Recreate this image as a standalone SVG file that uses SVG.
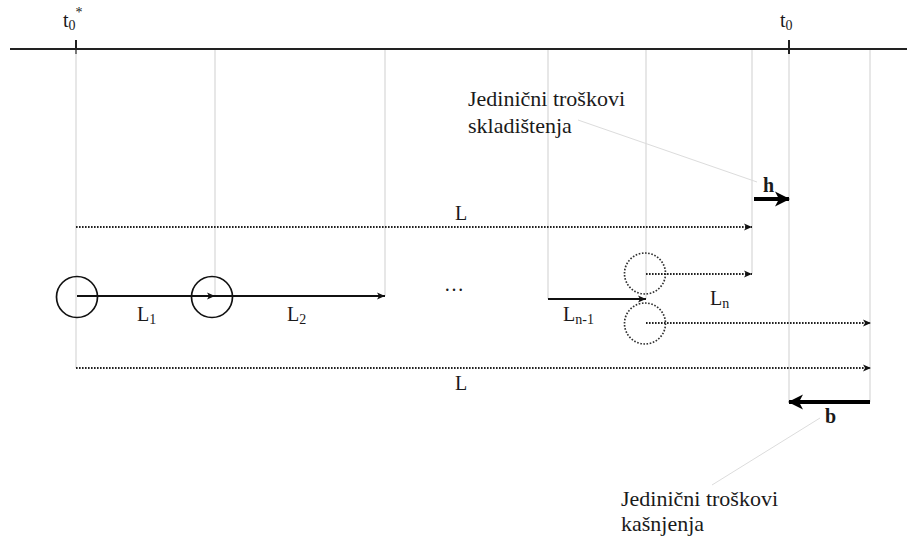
<svg xmlns="http://www.w3.org/2000/svg" width="907" height="541" viewBox="0 0 907 541">
<style>
  text { font-family: "Liberation Serif", "Times New Roman", serif; fill: #1a1a1a; }
  .grid { stroke: #cfcfcf; stroke-width: 1; fill: none; }
  .axis { stroke: #222; stroke-width: 2; fill: none; }
  .solid { stroke: #111; stroke-width: 1.8; fill: none; }
  .dotted { stroke: #222; stroke-width: 2.2; stroke-dasharray: 1.6 1.4; fill: none; }
  .thick { stroke: #000; stroke-width: 3.8; fill: none; }
  .leader { stroke: #dcdcdc; stroke-width: 1; fill: none; }
  .lbl { font-size: 20px; }
  .sub { font-size: 14px; }
  .bold { font-size: 20px; font-weight: bold; }
  .note { font-size: 22px; }
</style>
<defs>
  <marker id="arr" markerUnits="userSpaceOnUse" markerWidth="10" markerHeight="10" refX="9" refY="5" orient="auto">
    <path d="M1,1.5 L9,5 L1,8.5 L3,5 z" fill="#111"/>
  </marker>
  <marker id="big" markerUnits="userSpaceOnUse" markerWidth="18" markerHeight="18" refX="16" refY="9" orient="auto">
    <path d="M2,1.5 L17,9 L2,16.5 L6,9 z" fill="#000"/>
  </marker>
</defs>

<g id="axis">
  <line class="axis" x1="10" y1="49" x2="907" y2="49"/>
  <line class="axis" x1="76" y1="40" x2="76" y2="54"/>
  <line class="axis" x1="789" y1="40" x2="789" y2="54"/>
  <text class="lbl" x="63" y="27">t<tspan class="sub" dy="3">0</tspan><tspan class="sub" dy="-13">*</tspan></text>
  <text class="lbl" x="780" y="27">t<tspan class="sub" dy="3">0</tspan></text>
</g>

<g id="gridlines">
  <line class="grid" x1="76" y1="50" x2="76" y2="368"/>
  <line class="grid" x1="215" y1="50" x2="215" y2="297"/>
  <line class="grid" x1="385" y1="50" x2="385" y2="296"/>
  <line class="grid" x1="548" y1="50" x2="548" y2="299"/>
  <line class="grid" x1="646" y1="50" x2="646" y2="299"/>
  <line class="grid" x1="752" y1="50" x2="752" y2="274"/>
  <line class="grid" x1="789" y1="54" x2="789" y2="402"/>
  <line class="grid" x1="870" y1="50" x2="870" y2="402"/>
</g>

<g id="node-circle1"><circle cx="77" cy="297" r="20.5" fill="none" stroke="#111" stroke-width="1.7"/></g>
<g id="node-circle2"><circle cx="212" cy="297" r="20.5" fill="none" stroke="#111" stroke-width="1.7"/></g>
<g id="node-circle3"><circle cx="645" cy="273.5" r="20.5" fill="none" stroke="#333" stroke-width="1.7" stroke-dasharray="1.6 1.6"/></g>
<g id="node-circle4"><circle cx="645" cy="323.5" r="20.5" fill="none" stroke="#333" stroke-width="1.7" stroke-dasharray="1.6 1.6"/></g>

<g id="connectors">
  <line class="dotted" x1="76" y1="227" x2="752" y2="227" marker-end="url(#arr)"/>
  <line class="solid" x1="77" y1="296" x2="215" y2="296" marker-end="url(#arr)"/>
  <line class="solid" x1="215" y1="296" x2="385" y2="296" marker-end="url(#arr)"/>
  <line class="solid" x1="548" y1="299" x2="646" y2="299" marker-end="url(#arr)"/>
  <line class="dotted" x1="646" y1="274" x2="752" y2="274" marker-end="url(#arr)"/>
  <line class="dotted" x1="646" y1="323" x2="871" y2="323" marker-end="url(#arr)"/>
  <line class="dotted" x1="76" y1="368" x2="871" y2="368" marker-end="url(#arr)"/>
  <line class="thick" x1="754" y1="199" x2="789" y2="199" marker-end="url(#big)"/>
  <line class="thick" x1="870" y1="402" x2="789" y2="402" marker-end="url(#big)"/>
  <line class="leader" x1="578" y1="120" x2="757" y2="182"/>
  <line class="leader" x1="820" y1="418" x2="712" y2="485"/>
</g>

<g id="labels">
  <text class="lbl" x="455" y="220">L</text>
  <text class="lbl" x="455" y="390">L</text>
  <text class="lbl" x="444" y="291">…</text>
  <text class="lbl" x="137" y="321">L<tspan class="sub" dy="3">1</tspan></text>
  <text class="lbl" x="287" y="321">L<tspan class="sub" dy="3">2</tspan></text>
  <text class="lbl" x="563" y="321">L<tspan class="sub" dy="3">n-1</tspan></text>
  <text class="lbl" x="710" y="305">L<tspan class="sub" dy="3">n</tspan></text>
  <text class="bold" x="763" y="192">h</text>
  <text class="bold" x="825" y="423">b</text>
</g>

<g id="note-storage">
  <text class="note" x="468" y="106">Jedinični troškovi</text>
  <text class="note" x="468" y="133">skladištenja</text>
</g>
<g id="note-delay">
  <text class="note" x="621" y="506">Jedinični troškovi</text>
  <text class="note" x="621" y="531">kašnjenja</text>
</g>
</svg>
